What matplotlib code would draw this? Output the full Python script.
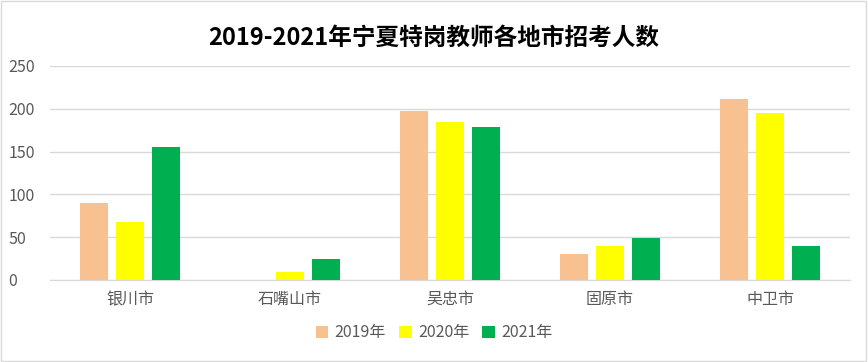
import matplotlib.pyplot as plt
import numpy as np

plt.rcParams['font.family'] = ['Noto Sans CJK SC', 'DejaVu Sans']

cities = ["银川市", "石嘴山市", "吴忠市", "固原市", "中卫市"]
years = ["2019年", "2020年", "2021年"]
v2019 = [90, 0, 197, 30, 211]
v2020 = [68, 9, 185, 40, 195]
v2021 = [155, 25, 179, 49, 40]
colors = ["#F8C18F", "#FFFF00", "#00B050"]

fig = plt.figure(figsize=(8.68, 3.62), dpi=100)
ax = fig.add_axes([50 / 868, 1 - 280 / 362, 800 / 868, 214 / 362])

x = np.arange(len(cities))
w = 28 / 160
off = 36 / 160
for i, (vals, lab) in enumerate(zip([v2019, v2020, v2021], years)):
    ax.bar(x + (i - 1) * off, vals, width=w, color=colors[i], label=lab, zorder=3)

ax.set_xlim(-0.5, len(cities) - 0.5)
ax.set_ylim(0, 250)
ax.set_yticks(range(0, 251, 50))
ax.set_xticks(x)
ax.set_xticklabels(cities)
ax.grid(axis='y', color='#D9D9D9', linewidth=1, zorder=0)
for s in ['top', 'right', 'left']:
    ax.spines[s].set_visible(False)
ax.spines['bottom'].set_color('#D9D9D9')
ax.tick_params(axis='both', length=0, labelsize=11.5, colors='#595959', pad=8)
ax.tick_params(axis='y', pad=30)
for t in ax.get_yticklabels():
    t.set_horizontalalignment('left')

fig.text(0.5, 1 - 38 / 362, "2019-2021年宁夏特岗教师各地市招考人数",
         ha='center', va='center', fontsize=17, fontweight='bold', color='black')

fig.legend(loc='center', bbox_to_anchor=(0.5, 1 - 333 / 362), ncol=3, frameon=False,
           fontsize=11.5, handlelength=0.8, handleheight=0.8, handletextpad=0.4,
           columnspacing=0.8, labelcolor='#595959')

fig.patches.append(plt.Rectangle((0.001, 0.002), 0.997, 0.995, transform=fig.transFigure,
                                 fill=False, edgecolor='#D9D9D9', linewidth=1))

fig.savefig("out.png", dpi=100)
